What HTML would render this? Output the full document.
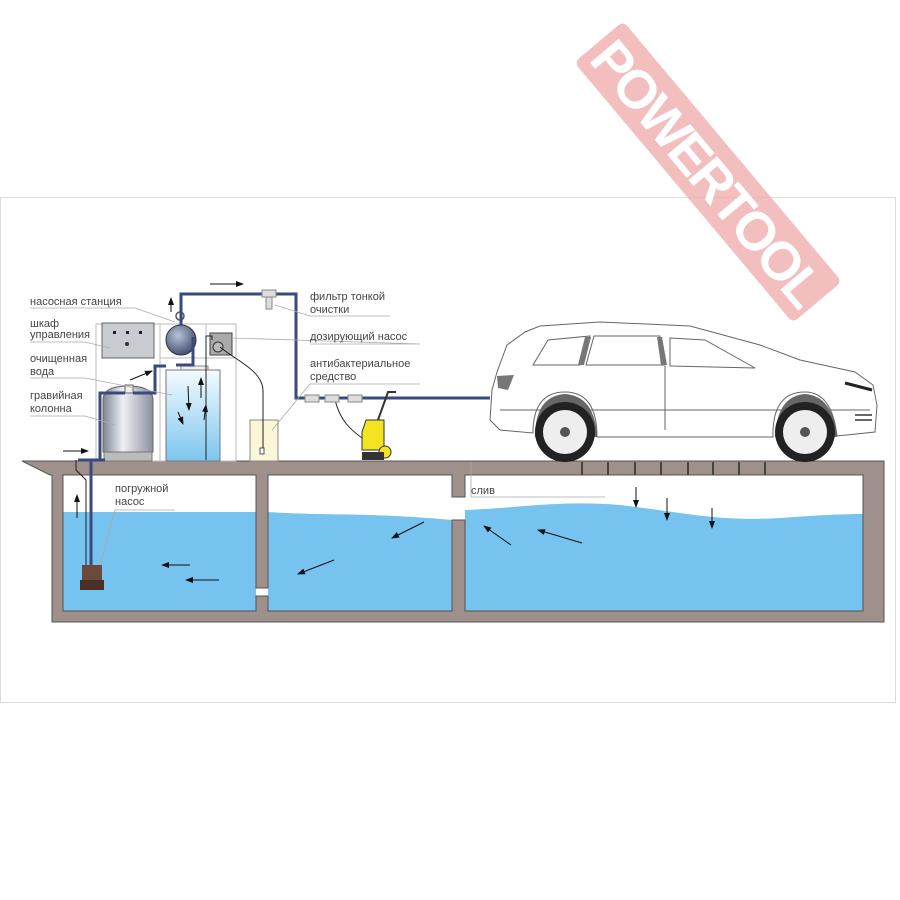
<!DOCTYPE html>
<html><head><meta charset="utf-8"><style>
html,body{margin:0;padding:0;background:#fff}
svg{display:block}
text{font-family:"Liberation Sans",sans-serif;font-size:11px;fill:#444}
</style></head><body>
<svg width="900" height="900" viewBox="0 0 900 900" xmlns="http://www.w3.org/2000/svg">
<defs>
<linearGradient id="bl" x1="0" y1="0" x2="0" y2="1"><stop offset="0" stop-color="#f4fbff"/><stop offset="1" stop-color="#7cc6ee"/></linearGradient>
<linearGradient id="sv" x1="0" y1="0" x2="1" y2="0"><stop offset="0" stop-color="#7d8595"/><stop offset=".4" stop-color="#eef0f4"/><stop offset="1" stop-color="#8a90a0"/></linearGradient>
<radialGradient id="sp" cx=".4" cy=".35" r=".7"><stop offset="0" stop-color="#b8c2d8"/><stop offset="1" stop-color="#3e4a6e"/></radialGradient>
<marker id="ah" markerWidth="8" markerHeight="8" refX="7" refY="4" orient="auto" markerUnits="userSpaceOnUse"><path d="M0,1 L8,4 L0,7z" fill="#111"/></marker>
</defs>
<rect x="0.5" y="197.5" width="895" height="505" fill="none" stroke="#ddd"/>
<g transform="translate(708,172) rotate(50)">
<rect x="-170" y="-32" width="340" height="64" rx="6" fill="#eeaaa8" opacity=".75"/>
<text x="0" y="20" text-anchor="middle" style="font-size:54px;font-weight:bold;fill:#fff;letter-spacing:-3px">POWERTOOL</text>
</g>
<path d="M63,512 H256 V611 H63z" fill="#75c3ee"/>
<path d="M268,512 C330,516 360,512 452,520 V611 H268z" fill="#75c3ee"/>
<path d="M465,510 C520,508 560,500 620,505 C680,512 720,522 780,518 C820,515 845,514 863,514 V611 H465z" fill="#75c3ee"/>
<g fill="#9f908b" stroke="#555" stroke-width="1">
<path d="M22,461 H884 V622 H52 V475 H50 Z M63,475 V611 H256 V596 H268 V611 H452 V520 H465 V611 H863 V475 H465 V497 H452 V475 H268 V588 H256 V475 Z" fill-rule="evenodd"/>
</g>
<g stroke="#444" stroke-width="2">
<path d="M582,462V475M608,462V475M635,462V475M661,462V475M688,462V475M713,462V475M739,462V475M765,462V475"/>
</g>
<g fill="none" stroke="#bbb" stroke-width="1">
<rect x="96" y="324" width="140" height="137"/>
<path d="M160,324V461M160,358H236M206,324V461"/>
</g>
<rect x="102" y="323" width="52" height="35" fill="#c8cbcf" stroke="#666"/>
<rect x="113" y="331" width="3" height="3" fill="#222"/><rect x="126" y="331" width="3" height="3" fill="#222"/><rect x="139" y="331" width="3" height="3" fill="#222"/>
<circle cx="127" cy="344" r="2" fill="#333"/>
<rect x="181" y="366" width="27" height="6" fill="#eee" stroke="#888"/>
<rect x="166" y="370" width="54" height="91" fill="url(#bl)" stroke="#777"/>
<path d="M103,400 Q103,386 128,386 Q153,386 153,400 V452 H103Z" fill="url(#sv)" stroke="#666"/>
<rect x="104" y="452" width="48" height="9" fill="#bbb" stroke="#777"/>
<rect x="125" y="385" width="8" height="8" fill="#eee" stroke="#666"/>
<circle cx="181" cy="340" r="15" fill="url(#sp)" stroke="#333"/>
<circle cx="180" cy="316" r="4" fill="none" stroke="#555" stroke-width="1.5"/>
<rect x="210" y="333" width="22" height="22" fill="#aaa" stroke="#444"/>
<circle cx="218" cy="347" r="5" fill="#bbb" stroke="#333"/>
<rect x="250" y="420" width="28" height="41" fill="#fbf6d8" stroke="#888"/>
<rect x="260" y="448" width="4" height="6" fill="#fff" stroke="#555"/>
<g fill="none" stroke="#3a4a7a" stroke-width="3">
<path d="M91,580 V460 H100 V393 H125"/>
<path d="M133,393 H155 V366 H166"/>
<path d="M181,325 V294 H296 V398 H490"/>
<path d="M193,337 V365 H176"/>
<path d="M78,460 H105"/>
</g>
<g fill="none" stroke="#222" stroke-width="1">
<path d="M86,580 V480 L76,470 V460"/>
<path d="M212,340 V336 H206 V460"/>
<path d="M220,347 C235,360 262,370 263,390 V448"/>
<path d="M335,400 C340,420 350,430 365,440"/>
</g>
<g fill="#ddd" stroke="#888">
<rect x="262" y="290" width="14" height="7"/><rect x="266" y="297" width="6" height="12"/>
<rect x="305" y="395" width="14" height="7"/><rect x="325" y="395" width="14" height="7"/><rect x="348" y="395" width="14" height="7"/>
</g>
<path d="M366,420 H384 V450 H362 V432Z" fill="#f3e320" stroke="#333"/>
<circle cx="385" cy="452" r="6" fill="#f3e320" stroke="#333"/>
<rect x="362" y="452" width="22" height="8" fill="#333"/>
<path d="M378,420 L388,392 H396" fill="none" stroke="#333" stroke-width="2"/>
<rect x="82" y="565" width="20" height="20" fill="#6b4a3c"/>
<rect x="80" y="580" width="24" height="10" fill="#4b3028"/>
<g stroke="#666" stroke-width="1" fill="#fff">
<path d="M490,420 L492,390 L497,372 L507,345 L525,332 L540,326 L600,322 L690,326 L760,345 L800,360 L855,372 L873,385 L877,405 L875,432 L837,436 Q832,392 805,392 Q772,392 773,437 L597,437 Q597,392 565,392 Q533,392 533,433 L500,430 Z"/>
<path d="M533,365 L548,340 L590,336 L580,365Z M594,336 L660,336 L665,365 L586,365Z M670,338 L705,340 L755,368 L670,366Z" fill="#fff"/>
<path d="M500,410 H870 M665,366 V430"/>
</g>
<path d="M535,437 Q535,396 565,394 Q595,396 597,437Z M775,437 Q777,396 805,394 Q833,396 837,437Z" fill="#666"/>
<path d="M585,337 L578,365 L584,365 L591,337Z M657,337 L661,365 L667,365 L662,337Z" fill="#777"/>
<path d="M497,376 L514,375 L508,390 L498,388Z" fill="#777"/>
<path d="M845,383 L872,390" stroke="#222" stroke-width="3"/>
<path d="M855,415 H872 M855,420 H872" stroke="#333" stroke-width="1.5"/>
<circle cx="565" cy="432" r="30" fill="#222"/><circle cx="565" cy="432" r="22" fill="#eee"/><circle cx="565" cy="432" r="5" fill="#555"/>
<circle cx="805" cy="432" r="30" fill="#222"/><circle cx="805" cy="432" r="22" fill="#eee"/><circle cx="805" cy="432" r="5" fill="#555"/>
<g stroke="#aaa" stroke-width=".8" fill="none">
<path d="M30,308 H135 L175,322"/>
<path d="M30,342 H85 L110,348"/>
<path d="M30,378 H85 L172,395"/>
<path d="M30,416 H85 L115,425"/>
<path d="M310,316 H390 M310,316 L275,305"/>
<path d="M310,344 H420 L232,338"/>
<path d="M310,384 H420 M310,384 L272,430"/>
<path d="M115,510 H175 M115,510 L100,565"/>
<path d="M471,497 H605 M471,497 V462"/>
</g>
<text x="30" y="305">насосная станция</text>
<text x="30" y="327">шкаф</text><text x="30" y="338">управления</text>
<text x="30" y="362">очищенная</text><text x="30" y="375">вода</text>
<text x="30" y="399">гравийная</text><text x="30" y="412">колонна</text>
<text x="310" y="300">фильтр тонкой</text><text x="310" y="313">очистки</text>
<text x="310" y="340">дозирующий насос</text>
<text x="310" y="367">антибактериальное</text><text x="310" y="380">средство</text>
<text x="115" y="492">погружной</text><text x="115" y="505">насос</text>
<text x="471" y="494">слив</text>
<g stroke="#111" stroke-width="1" marker-end="url(#ah)">
<path d="M210,284 H243"/><path d="M171,312 V298"/>
<path d="M130,380 L152,371"/><path d="M63,451 H88"/>
<path d="M77,518 V495"/><path d="M188,386 L189,410"/><path d="M201,398 V378"/>
<path d="M178,412 L183,424"/><path d="M204,420 L206,405"/>
<path d="M190,565 H162"/><path d="M219,580 H186"/>
<path d="M334,560 L298,574"/><path d="M424,522 L392,538"/>
<path d="M511,545 L484,526"/><path d="M582,543 L538,530"/>
<path d="M636,487 V507"/><path d="M667,498 V520"/><path d="M712,508 V528"/>
</g>
</svg>
</body></html>
